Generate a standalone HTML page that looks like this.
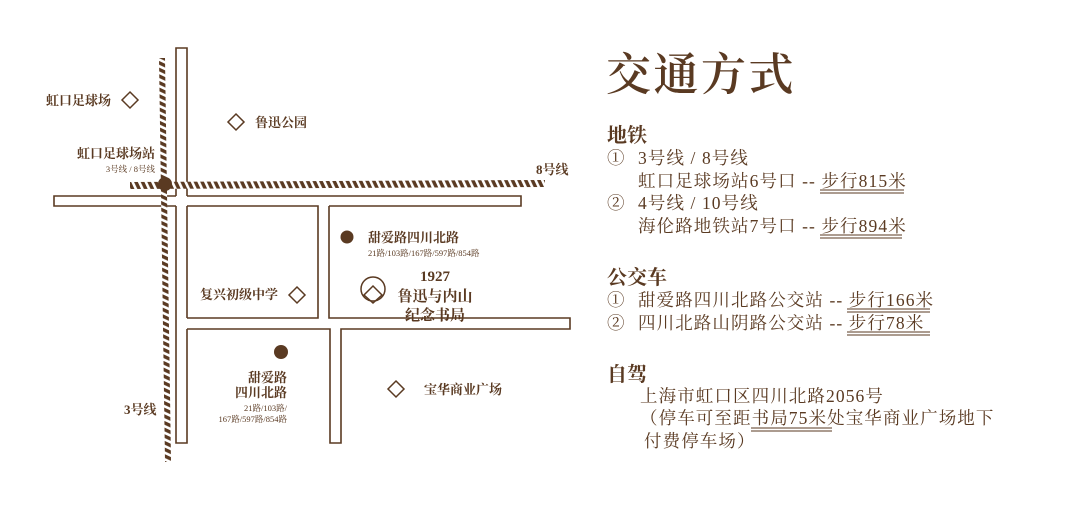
<!DOCTYPE html>
<html><head><meta charset="utf-8"><style>
html,body{margin:0;padding:0;background:#fff;}
svg{display:block}
text{font-family:"Liberation Serif","Noto Serif CJK SC",serif;fill:#5a3a22}
.b{font-weight:bold}
</style></head><body>
<svg width="1080" height="509" viewBox="0 0 1080 509" xmlns="http://www.w3.org/2000/svg">
<defs>
<pattern id="hv" width="6" height="6" patternUnits="userSpaceOnUse" patternTransform="rotate(25)">
<rect width="6" height="6" fill="#fff"/><rect width="6" height="3.4" fill="#5a3a22"/>
</pattern>
<pattern id="hh" width="6" height="6" patternUnits="userSpaceOnUse" patternTransform="rotate(65)">
<rect width="6" height="6" fill="#fff"/><rect width="6" height="3.4" fill="#5a3a22"/>
</pattern>
</defs>
<g stroke="#5a3a22" stroke-width="1.6" fill="none">
<path d="M176,196 V48 H187 V196"/>
<path d="M176,206 V443 H187 V329"/>
<path d="M187,206 V318"/>
<path d="M176,196 H54 V206 H176"/>
<path d="M187,196 H521 V206 H329"/>
<path d="M187,206 H318 V318 H187"/>
<path d="M329,206 V318 H570 V329 H341 V443 H330 V329 H187"/>
</g>
<polygon points="130,182 545,180 545,187 130,189" fill="url(#hh)"/>
<polygon points="159,58 165,58 171,462 165,462" fill="url(#hv)"/>
<circle cx="165" cy="184" r="7" fill="#5a3a22"/>
<g stroke="#5a3a22" stroke-width="1.5" fill="none">
<path d="M130,92 L138,100 L130,108 L122,100 Z"/>
<path d="M236,114 L244,122 L236,130 L228,122 Z"/>
<path d="M297,287 L305,295 L297,303 L289,295 Z"/>
<path d="M396,381 L404,389 L396,397 L388,389 Z"/>
<circle cx="373" cy="289" r="12"/>
<path d="M373,286 L382,295 L373,303 L364,295 Z"/>
</g>
<circle cx="347" cy="237" r="6.5" fill="#5a3a22"/>
<circle cx="281" cy="352" r="7" fill="#5a3a22"/>
<g class="b" font-size="13">
<text x="46" y="105" class="b">虹口足球场</text>
<text x="255" y="127" class="b">鲁迅公园</text>
<text x="155" y="158" text-anchor="end" class="b">虹口足球场站</text>
<text x="536" y="174" class="b">8号线</text>
<text x="368" y="242" class="b">甜爱路四川北路</text>
<text x="200" y="299" class="b">复兴初级中学</text>
<text x="287" y="382" text-anchor="end" class="b">甜爱路</text>
<text x="287" y="397" text-anchor="end" class="b">四川北路</text>
<text x="424" y="394" class="b">宝华商业广场</text>
<text x="124" y="414" class="b">3号线</text>
</g>
<text x="155" y="172" text-anchor="end" font-size="8.5">3号线 / 8号线</text>
<text x="368" y="256" font-size="8.5">21路/103路/167路/597路/854路</text>
<text x="287" y="411" text-anchor="end" font-size="8.5">21路/103路/</text>
<text x="287" y="422" text-anchor="end" font-size="8.5">167路/597路/854路</text>
<g class="b" font-size="15" text-anchor="middle">
<text x="435" y="281" class="b">1927</text>
<text x="435" y="301" class="b">鲁迅与内山</text>
<text x="435" y="320" class="b">纪念书局</text>
</g>
<text x="606" y="90" font-size="45" style="font-weight:600;letter-spacing:2.5px">交通方式</text>
<g font-size="20" class="b">
<text x="607" y="142" class="b">地铁</text>
<text x="607" y="284" class="b">公交车</text>
<text x="607" y="381" class="b">自驾</text>
</g>
<g font-size="17.5" style="letter-spacing:1.1px">
<text x="607" y="164">①</text>
<text x="638" y="164">3号线 / 8号线</text>
<text x="638" y="187">虹口足球场站6号口 -- 步行815米</text>
<text x="607" y="209">②</text>
<text x="638" y="209">4号线 / 10号线</text>
<text x="638" y="232">海伦路地铁站7号口 -- 步行894米</text>
<text x="607" y="306">①</text>
<text x="638" y="306">甜爱路四川北路公交站 -- 步行166米</text>
<text x="607" y="329">②</text>
<text x="638" y="329">四川北路山阴路公交站 -- 步行78米</text>
<text x="640" y="402">上海市虹口区四川北路2056号</text>
<text x="640" y="424">（停车可至距书局75米处宝华商业广场地下</text>
<text x="644" y="447">付费停车场）</text>
</g>
<g stroke="#5a3a22" stroke-width="1">
<path d="M820,190 H904 M820,193 H904"/>
<path d="M820,235 H902 M820,238 H902"/>
<path d="M847,309 H930 M847,312 H930"/>
<path d="M847,332 H930 M847,335 H930"/>
<path d="M751,428 H832 M751,431 H832"/>
</g>
</svg>
</body></html>
